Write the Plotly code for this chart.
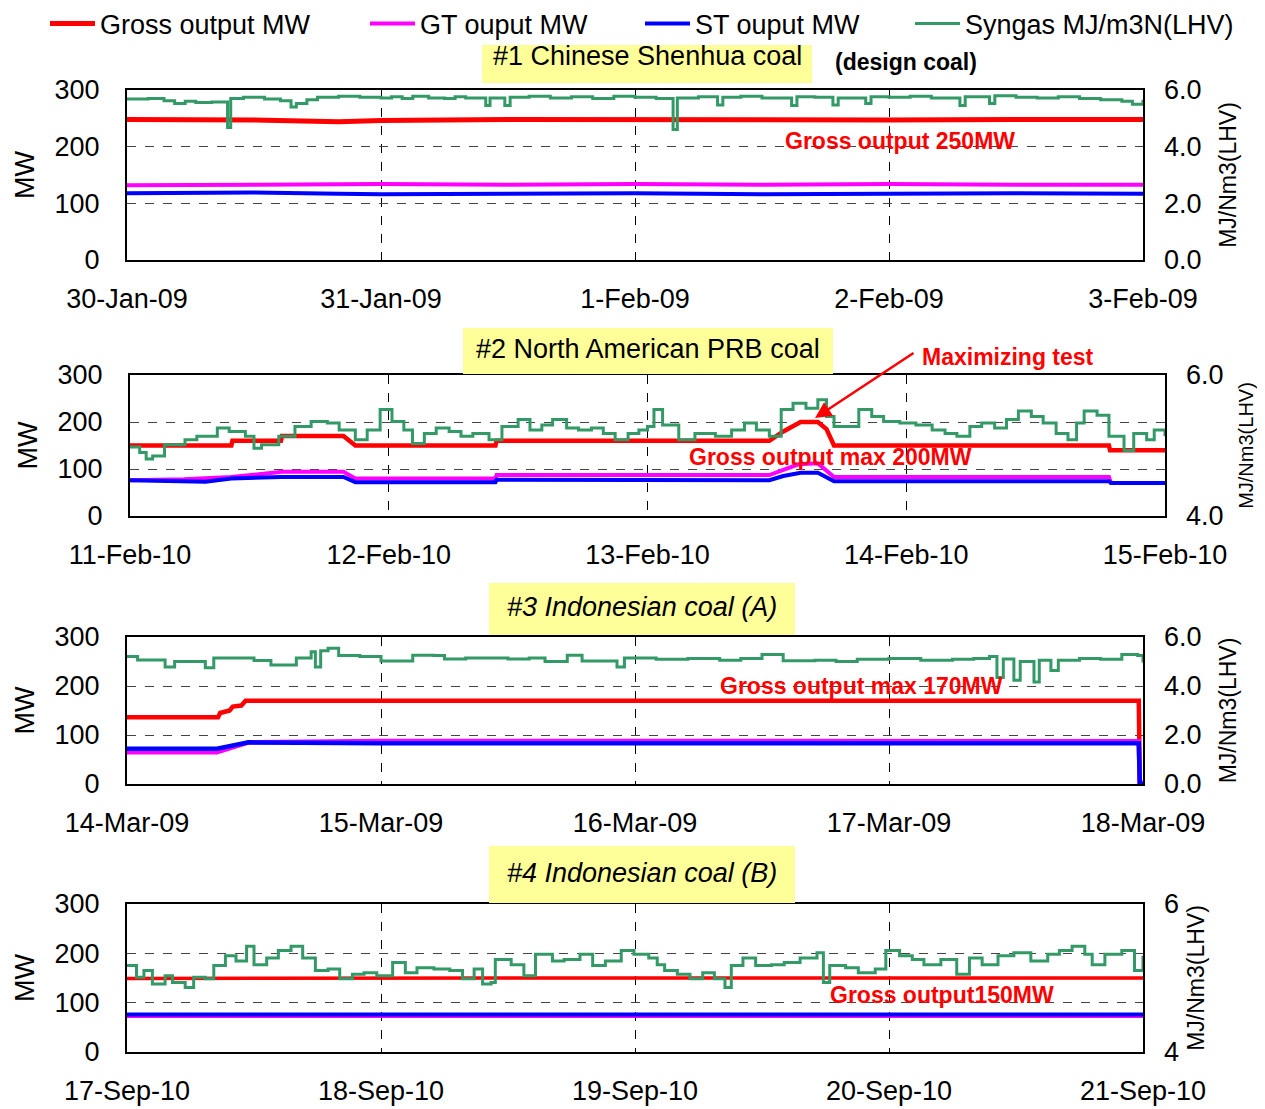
import pandas as pd
import plotly.graph_objects as go

W, H = 1265, 1109
OFF = 8                      # page body margin of the written html
FW, FH = W - OFF, H - OFF    # figure size so that it exactly fills the window

# ---------------- DATA (hours from panel start) ----------------
# Panel 1: #1 Chinese Shenhua coal
P1_START = "2009-01-30"
p1_sg_h = [0, 2, 3.5, 4.5, 5.5, 6.5, 8, 9.5, 9.8, 11, 13, 14.5, 15.5, 16, 17, 18, 20, 22, 24, 25, 26, 27,
           28.5, 30, 31, 32, 33.9, 34.3, 35.7, 36.2, 38, 40, 42, 44, 46, 48, 50, 51.6, 52, 54, 55.8, 56.3,
           58, 60, 62.8, 63.3, 65, 66.7, 67.2, 69.8, 70.3, 72, 74, 76, 78.7, 79.2, 81.5, 82, 84, 86, 88,
           90, 92, 94, 95, 96]
p1_syngas = [5.68, 5.70, 5.62, 5.52, 5.60, 5.56, 5.58, 4.68, 5.70, 5.74, 5.68, 5.62, 5.40, 5.52, 5.66, 5.74,
             5.78, 5.74, 5.72, 5.76, 5.70, 5.78, 5.72, 5.70, 5.76, 5.72, 5.45, 5.72, 5.45, 5.74, 5.78, 5.72,
             5.76, 5.70, 5.78, 5.74, 5.70, 4.61, 5.72, 5.76, 5.47, 5.74, 5.78, 5.72, 5.45, 5.76, 5.74, 5.47,
             5.72, 5.52, 5.76, 5.74, 5.78, 5.72, 5.45, 5.76, 5.52, 5.80, 5.74, 5.72, 5.76, 5.70, 5.66, 5.60,
             5.50, 5.66]
p1_pw_h = [0, 12, 20, 24, 36, 48, 60, 72, 84, 96]
p1_gross = [248, 247, 244, 246, 248, 247, 248, 247, 248, 248]
p1_gt = [132, 133, 132, 134, 133, 134, 133, 134, 133, 133]
p1_st = [118, 119, 117, 116, 117, 118, 116, 117, 118, 117]

# Panel 2: #2 North American PRB coal
P2_START = "2010-02-11"
p2_sg_h = [0, 0.9, 1.5, 2.1, 3.2, 5.1, 6.2, 8.1, 9.2, 10.7, 11.5, 12.2, 13.8, 15.3, 16.8, 18.3, 19.4, 20.9,
           22.0, 23.2, 24.3, 25.4, 26.2, 27.3, 28.4, 29.6, 30.7, 31.8, 33.3, 34.5, 36.0, 37.1, 38.2, 39.2,
           40.5, 41.6, 42.8, 43.9, 45.0, 46.2, 47.2, 48.0, 48.6, 49.4, 50.9, 52.4, 54.3, 55.8, 57.0, 58.1,
           59.3, 60.4, 61.5, 62.7, 63.8, 64.6, 65.3, 66.5, 67.6, 68.8, 69.9, 71.4, 72.9, 74.4, 75.6, 76.7,
           77.9, 79.0, 80.2, 81.3, 82.4, 83.6, 84.7, 85.9, 87.0, 87.8, 88.5, 89.7, 90.8, 92.2, 93.1, 94.3,
           95.0, 96.0]
p2_syngas = [4.98, 4.90, 4.81, 4.85, 5.01, 5.08, 5.13, 5.25, 5.20, 5.13, 4.96, 5.01, 5.13, 5.27, 5.34, 5.32,
             5.22, 5.08, 5.22, 5.51, 5.34, 5.22, 5.03, 5.17, 5.25, 5.20, 5.13, 5.17, 5.08, 5.27, 5.37, 5.22,
             5.29, 5.37, 5.25, 5.22, 5.25, 5.17, 5.08, 5.17, 5.22, 5.27, 5.51, 5.29, 5.08, 5.17, 5.13, 5.22,
             5.32, 5.22, 5.13, 5.51, 5.60, 5.53, 5.65, 5.41, 5.27, 5.27, 5.51, 5.41, 5.34, 5.32, 5.29, 5.22,
             5.17, 5.13, 5.27, 5.32, 5.25, 5.37, 5.49, 5.41, 5.32, 5.17, 5.08, 5.32, 5.49, 5.43, 5.13, 4.93,
             5.17, 5.08, 5.22, 5.13]
p2_gross_h = [0, 9.4, 9.5, 14.0, 14.1, 19.8, 20.9, 33.9, 34.0, 59.3, 60.6, 61.8, 62.2, 63.8, 64.6, 65.3,
              90.8, 90.9, 96]
p2_gross = [150, 150, 160, 160, 170, 170, 150, 150, 160, 160, 180, 195, 200, 200, 185, 150, 150, 140, 140]
p2_gt_h = [0, 5, 9.4, 14.1, 19.8, 20.9, 33.9, 34.0, 59.3, 60.6, 62.0, 63.8, 65.3, 90.8, 91.0, 96]
p2_gt = [76, 78, 83, 94, 94, 80, 80, 87, 87, 98, 110, 112, 83, 83, 70, 70]
p2_st_h = [0, 7, 9.4, 14.0, 19.8, 20.9, 33.9, 34.0, 59.3, 60.6, 62.2, 63.8, 65.3, 90.8, 91.0, 96]
p2_st = [76, 73, 80, 83, 83, 72, 72, 77, 76, 85, 92, 92, 74, 74, 70, 70]

# Panel 3: #3 Indonesian coal (A)
P3_START = "2009-03-14"
p3_sg_h = [0, 1, 3.6, 4.5, 6, 7.4, 8.2, 10, 12, 13.6, 15, 16, 17.4, 17.8, 18.3, 19, 20, 22, 24, 26, 27, 29,
           30, 32, 34, 36, 38, 39.5, 41, 41.6, 43, 45, 46.3, 47, 48, 50, 53, 56, 58, 60, 62, 65, 67, 69, 72,
           75, 78, 80, 81.5, 82.2, 82.8, 83.8, 84.4, 85.7, 86.2, 87.3, 88, 90, 92, 94, 95.5, 96]
p3_syngas = [5.20, 5.06, 4.78, 5.00, 5.00, 4.74, 5.14, 5.14, 5.04, 4.86, 4.86, 5.14, 5.40, 4.78, 5.44, 5.54,
             5.24, 5.20, 5.02, 5.02, 5.26, 5.24, 5.10, 5.14, 5.14, 5.10, 5.14, 5.00, 5.00, 5.26, 5.02, 5.02,
             4.78, 5.14, 5.14, 5.09, 5.12, 5.05, 5.12, 5.29, 5.03, 5.05, 5.00, 5.09, 5.12, 5.05, 5.09, 5.12,
             5.20, 4.35, 5.10, 4.23, 5.00, 4.16, 5.05, 4.63, 5.05, 5.12, 5.09, 5.29, 5.24, 4.96]
p3_gross_h = [0, 8.6, 8.8, 9.7, 10.0, 10.8, 11.2, 48, 95.6, 95.7, 96]
p3_gross = [136, 136, 145, 150, 158, 160, 170, 170, 170, 2, 2]
p3_gt_h = [0, 8.5, 11.5, 24, 48, 72, 95.6, 95.7, 96]
p3_gt = [65, 65, 85, 88, 88, 87, 87, 2, 2]
p3_st_h = [0, 8.5, 11.5, 24, 48, 72, 95.6, 95.7, 96]
p3_st = [72, 72, 85, 83, 83, 84, 83, 0, 0]

# Panel 4: #4 Indonesian coal (B)
P4_START = "2010-09-17"
p4_sg_h = [0, 0.9, 1.6, 2.4, 3.6, 4.3, 5.5, 6.3, 7.4, 8.2, 9.3, 10.3, 11.3, 12.0, 13.2, 14.3, 15.5, 16.6,
           17.8, 19.0, 20.1, 21.3, 22.4, 23.6, 25.1, 26.3, 27.4, 29.0, 30.5, 31.7, 32.8, 33.6, 34.4, 34.8,
           36.3, 37.5, 38.6, 40.2, 41.3, 42.8, 44.0, 45.2, 46.7, 47.9, 49.3, 50.1, 50.8, 52.0, 53.2, 54.4,
           55.5, 56.5, 57.1, 58.2, 59.4, 60.9, 62.1, 63.6, 65.2, 65.8, 66.4, 67.9, 69.1, 70.7, 71.7, 73.0,
           74.2, 75.3, 76.9, 78.4, 79.6, 80.8, 82.3, 83.8, 85.4, 87.0, 88.1, 89.3, 90.5, 91.2, 92.4, 94.0,
           95.2, 96.0]
p4_syngas = [5.17, 5.01, 5.10, 4.92, 5.03, 4.94, 4.87, 5.01, 4.99, 5.17, 5.30, 5.23, 5.43, 5.18, 5.27, 5.37,
             5.43, 5.27, 5.10, 5.12, 4.99, 5.05, 5.07, 5.03, 5.21, 5.07, 5.14, 5.12, 5.10, 4.99, 5.12, 4.92,
             4.94, 5.25, 5.18, 5.03, 5.32, 5.23, 5.25, 5.32, 5.17, 5.23, 5.37, 5.32, 5.27, 5.18, 5.10, 5.05,
             4.99, 5.07, 4.99, 4.87, 5.17, 5.27, 5.17, 5.18, 5.21, 5.27, 5.34, 4.94, 5.17, 5.14, 5.07, 5.12,
             5.37, 5.30, 5.25, 5.18, 5.25, 5.05, 5.27, 5.18, 5.30, 5.34, 5.23, 5.32, 5.37, 5.43, 5.32, 5.18,
             5.32, 5.37, 5.10, 5.30]
p4_pw_h = [0, 24, 48, 72, 96]
p4_gross = [149, 150, 150, 150, 150]
p4_gt = [73, 73, 73, 73, 73]
p4_st = [76, 76, 76, 76, 76]

# Texts
panel_titles = ["#1 Chinese Shenhua coal", "#2 North American PRB coal",
                "<i>#3 Indonesian coal (A)</i>", "<i>#4 Indonesian coal (B)</i>"]
series_names = ["Gross output MW", "GT ouput MW", "ST ouput MW", "Syngas MJ/m3N(LHV)"]
left_title = "MW"
right_title = "MJ/Nm3(LHV)"

# ---------------- STYLE ----------------
FONT = "Liberation Sans, Arial, sans-serif"
C_RED, C_MAG, C_BLUE, C_GREEN = "#FF0000", "#FF00FF", "#0000FF", "#339966"
YELLOW = "#FFFF99"
BIG = 27


def px_x(p):
    return (p - OFF) / FW


def px_y(p):
    return 1 - (p - OFF) / FH


def tstamps(start, hours):
    return pd.Timestamp(start) + pd.to_timedelta(pd.Series(hours, dtype=float), unit="h")


panels = [
    dict(start=P1_START, sg_h=p1_sg_h, sg=p1_syngas,
         gross=(p1_pw_h, p1_gross), gt=(p1_pw_h, p1_gt), st=(p1_pw_h, p1_st),
         dom=(127, 1143, 90, 260), rrange=[0, 6], rfmt=".1f", rsz=23, rstand=19, wred=5, wpow=4),
    dict(start=P2_START, sg_h=p2_sg_h, sg=p2_syngas,
         gross=(p2_gross_h, p2_gross), gt=(p2_gt_h, p2_gt), st=(p2_st_h, p2_st),
         dom=(130, 1165, 375, 516), rrange=[4, 6], rfmt=".1f", rsz=20, rstand=16, wred=4.5, wpow=4),
    dict(start=P3_START, sg_h=p3_sg_h, sg=p3_syngas,
         gross=(p3_gross_h, p3_gross), gt=(p3_gt_h, p3_gt), st=(p3_st_h, p3_st),
         dom=(127, 1143, 637, 784), rrange=[0, 6], rfmt=".1f", rsz=23, rstand=19, wred=4.5, wpow=4.5),
    dict(start=P4_START, sg_h=p4_sg_h, sg=p4_syngas,
         gross=(p4_pw_h, p4_gross), gt=(p4_pw_h, p4_gt), st=(p4_pw_h, p4_st),
         dom=(127, 1143, 904, 1052), rrange=[4, 6], rfmt="d", rsz=23, rstand=9, wred=3.5, wpow=4),
]

legend_ids = ["legend", "legend2", "legend3", "legend4"]
legend_line_x = [50, 370, 645, 915]

fig = go.Figure()
layout = {}

for i, p in enumerate(panels):
    n = i + 1
    xk = "x" if n == 1 else f"x{n}"
    yl = f"y{2 * n - 1}" if n > 1 else "y"
    yr = f"y{2 * n}"
    show = n == 1
    specs = [("gross", C_RED, p["wred"], 0), ("gt", C_MAG, p["wpow"], 1), ("st", C_BLUE, p["wpow"], 2)]
    for key, col, wid, k in specs:
        hh, vv = p[key]
        fig.add_trace(go.Scatter(x=tstamps(p["start"], hh), y=vv, mode="lines", name=series_names[k],
                                 line=dict(color=col, width=wid), xaxis=xk, yaxis=yl,
                                 showlegend=show, legend=legend_ids[k]))
    fig.add_trace(go.Scatter(x=tstamps(p["start"], p["sg_h"]), y=p["sg"], mode="lines",
                             name=series_names[3], line=dict(color=C_GREEN, width=3, shape="hv"),
                             xaxis=xk, yaxis=yr, showlegend=show, legend=legend_ids[3]))

    x0, x1, yt, yb = p["dom"]
    start = pd.Timestamp(p["start"])
    end = start + pd.Timedelta(days=4)
    xname = "xaxis" if n == 1 else f"xaxis{n}"
    ylname = "yaxis" if n == 1 else f"yaxis{2 * n - 1}"
    yrname = f"yaxis{2 * n}"
    layout[xname] = dict(
        domain=[px_x(x0), px_x(x1)], anchor=yl, range=[start, end], type="date",
        tick0=start, dtick=86400000, tickformat="%-d-%b-%y",
        showline=True, linecolor="black", linewidth=2, mirror=True,
        showgrid=True, gridcolor="black", gridwidth=1, griddash="dash",
        ticks="", tickfont=dict(size=BIG, color="black"), ticklabelstandoff=14,
        zeroline=False, automargin=False, fixedrange=True,
    )
    layout[ylname] = dict(
        domain=[px_y(yb), px_y(yt)], anchor=xk, range=[0, 300], dtick=100,
        showline=True, linecolor="black", linewidth=2, mirror=True,
        showgrid=True, gridcolor="#444444", gridwidth=1, griddash="dash",
        ticks="", tickfont=dict(size=BIG, color="black"), ticklabelstandoff=20,
        title=dict(text=left_title, font=dict(size=BIG, color="black"), standoff=12),
        zeroline=False, automargin=False,
    )
    layout[yrname] = dict(
        overlaying=yl, side="right", anchor=xk, domain=[px_y(yb), px_y(yt)],
        range=p["rrange"], dtick=2, tickformat=p["rfmt"],
        showgrid=False, showline=False, zeroline=False,
        ticks="", tickfont=dict(size=BIG, color="black"), ticklabelstandoff=20,
        title=dict(text=right_title, font=dict(size=p["rsz"], color="black"), standoff=p["rstand"]),
        automargin=False,
    )

# Legends: one per series, placed where the reference shows them
for lid, lx in zip(legend_ids, legend_line_x):
    layout[lid] = dict(orientation="h", x=px_x(lx - 5), y=px_y(24), xanchor="left", yanchor="middle",
                       font=dict(size=BIG, color="black"), itemwidth=45, bgcolor="rgba(0,0,0,0)")

# Yellow title boxes (pixel extents) and titles
boxes = [(482, 812, 45, 83, 56), (463, 833, 328, 374, 349), (489, 795, 583, 635, 607), (489, 795, 846, 903, 873)]
shapes = []
annotations = []
for (bx0, bx1, by0, by1, ty), title in zip(boxes, panel_titles):
    shapes.append(dict(type="rect", xref="paper", yref="paper", x0=px_x(bx0), x1=px_x(bx1),
                       y0=px_y(by1), y1=px_y(by0), fillcolor=YELLOW, line=dict(width=0), layer="above"))
    annotations.append(dict(text=title, xref="paper", yref="paper", x=px_x((bx0 + bx1) / 2), y=px_y(ty),
                            xanchor="center", yanchor="middle", showarrow=False,
                            font=dict(size=BIG, color="black", family=FONT)))

annotations.append(dict(text="<b>(design coal)</b>", xref="paper", yref="paper", x=px_x(906), y=px_y(62),
                        xanchor="center", yanchor="middle", showarrow=False,
                        font=dict(size=23, color="black", family=FONT)))

red_notes = [("Gross output 250MW", 900, 141), ("Gross output max 200MW", 830, 457),
             ("Gross output max 170MW", 861, 686), ("Gross output150MW", 942, 995),
             ("Maximizing test", 1008, 357)]
for txt, cx, cy in red_notes:
    annotations.append(dict(text=f"<b>{txt}</b>", xref="paper", yref="paper", x=px_x(cx), y=px_y(cy),
                            xanchor="center", yanchor="middle", showarrow=False,
                            font=dict(size=23, color=C_RED, family=FONT)))

# arrow of the maximizing test note (tail at the text, head at the peak)
annotations.append(dict(text="", xref="paper", yref="paper", x=px_x(815), y=px_y(418),
                        ax=915 - 815, ay=352 - 418, showarrow=True, arrowhead=2, arrowsize=1.3,
                        arrowwidth=2.5, arrowcolor=C_RED))

fig.update_layout(
    width=FW, height=FH, autosize=False,
    margin=dict(l=0, r=0, t=0, b=0, autoexpand=False),
    paper_bgcolor="white", plot_bgcolor="white",
    font=dict(family=FONT, color="black"),
    showlegend=True,
    shapes=shapes, annotations=annotations,
    **layout,
)

fig.write_html("out.html")
